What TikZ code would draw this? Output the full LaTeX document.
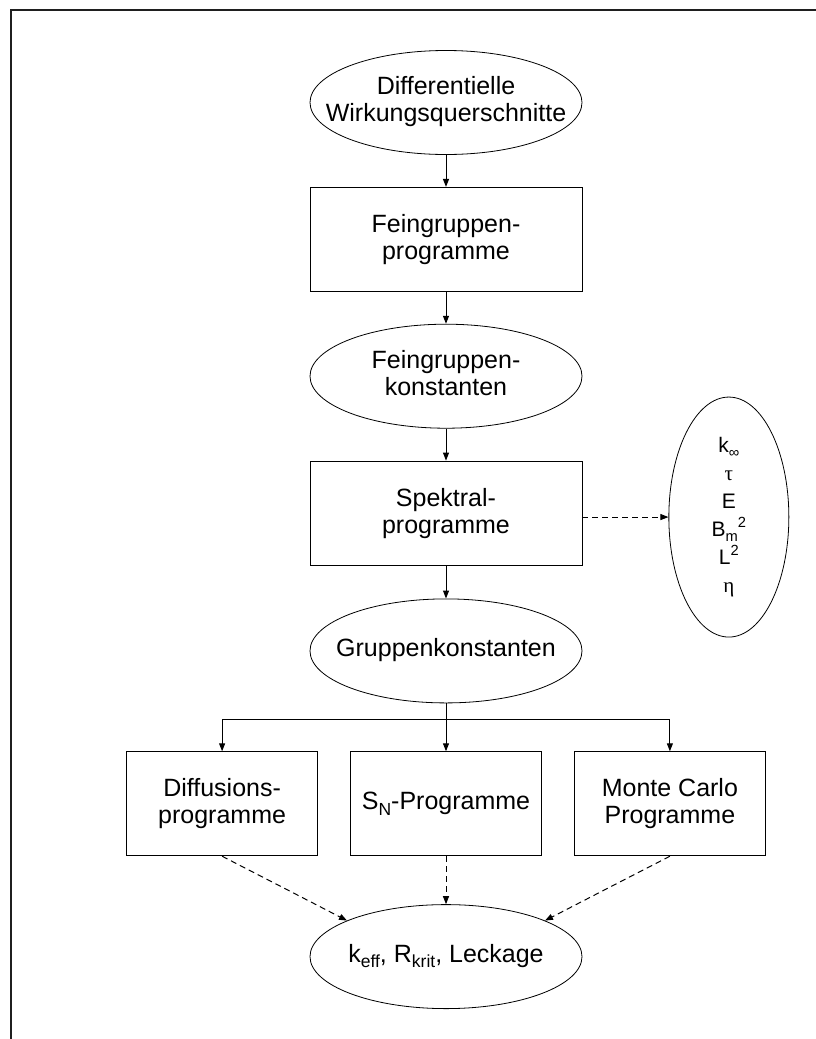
\documentclass[tikz,border=0pt]{standalone}
\usepackage{fontspec}
\setmainfont{Liberation Sans}
\newfontfamily\greekfont{Liberation Serif}
\usepackage{tikz}
\usetikzlibrary{arrows.meta,positioning,shapes}

% text inside an oval, kept out of the oval's size
\newcommand{\inoval}[1]{\makebox[0pt]{\begin{tabular}{@{}c@{}}#1\end{tabular}}}
% lowered and raised indices
\newcommand{\lo}[1]{\raisebox{-.22em}{\scalebox{.7}{#1}}}
\newcommand{\hi}[1]{\raisebox{.42em}{\scalebox{.7}{#1}}}

\begin{document}
\begin{tikzpicture}[
    x=1pt, y=-1pt,
    node distance=32pt,
    font=\fontsize{25}{27}\selectfont,
    line width=1pt,
    box/.style={draw, line width=0.9pt, align=center, minimum width=272pt, minimum height=104pt, inner sep=0pt},
    prog/.style={box, minimum width=191pt},
    oval/.style={draw, ellipse, line width=0.8pt, minimum width=272pt, minimum height=104pt, inner sep=0pt},
    dashline/.style={->, dash pattern=on 6pt off 4pt},
    >={Triangle[length=8pt,width=6pt]},
  ]
    \useasboundingbox (0,0) rectangle (816,1039);
    % frame
    \draw[line width=2pt, black!88] (11,10) rectangle (840,1060);

    % main chain
    \node[oval] (wq) at (446,102.5) {\inoval{Differentielle\\Wirkungsquerschnitte}};
    \node[box, below=of wq] (fgprog) {Feingruppen-\\programme};
    \node[oval, below=of fgprog] (fgkonst) {\inoval{Feingruppen-\\konstanten}};
    \node[box, below=of fgkonst] (spektral) {Spektral-\\programme};
    \node[oval, below=33pt of spektral] (gruppen) {\inoval{Gruppenkonstanten}};

    % side results
    \node[oval, minimum width=120pt, minimum height=240pt, font=\fontsize{21}{28}\selectfont,
          right=86pt of spektral, yshift=-4pt] (kinf)
      {\inoval{k\lo{∞}\\{\greekfont τ}\\E\\B\lo{m}\hi{2}\\L\hi{2}\\{\greekfont η}}};

    % programme row
    \node[prog, below=48pt of gruppen] (sn) {S\lo{N}-Programme};
    \node[prog, left=32pt of sn] (diff) {Diffusions-\\programme};
    \node[prog, right=32pt of sn] (mc) {Monte Carlo\\Programme};

    % result
    \node[oval, below=48pt of sn] (res) {\inoval{k\lo{eff}, R\lo{krit}, Leckage}};

    % edges
    \draw[->] (wq) -- (fgprog);
    \draw[->] (fgprog) -- (fgkonst);
    \draw[->] (fgkonst) -- (spektral);
    \draw[->] (spektral) -- (gruppen);
    \draw[dashline] (spektral.east |- kinf.west) -- (kinf.west);
    \path (gruppen.south) ++(0,16) coordinate (fork);
    \draw[->] (gruppen) -- (sn);
    \draw[->] (fork) -| (diff.north);
    \draw[->] (fork) -| (mc.north);
    \draw[dashline] (diff.south) -- (res.160);
    \draw[dashline] (sn.south) -- (res.north);
    \draw[dashline] (mc.south) -- (res.20);
  \end{tikzpicture}
\end{document}
